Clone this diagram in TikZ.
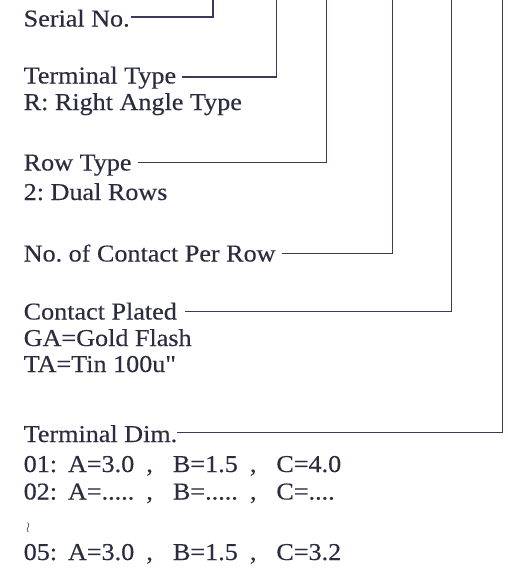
\documentclass[tikz,border=0pt]{standalone}
\usepackage{fontspec}
\setmainfont{Liberation Serif}[FakeStretch=1.08, FakeBold=0.3]
\usetikzlibrary{positioning}
\definecolor{inkgray}{RGB}{44,44,64}
\definecolor{leadgray}{RGB}{60,58,92}
\frenchspacing
\tikzset{
    % Texts
    heading/.style = {anchor=base west, inner sep=0pt, text=inkgray,
        font=\fontsize{24.2}{26}\selectfont},
    option/.style  = {heading},
    gapmark/.style = {inner sep=0pt, text=inkgray, font=\fontsize{15}{15}\selectfont},
    % Leader lines
    leader/.style  = {draw=leadgray, line width=1.4pt}
}
% one row of terminal dimensions, fixed columns
\newcommand{\termrow}[4]{%
    \makebox[44.3pt][l]{#1:}\makebox[78.4pt][l]{#2}\makebox[26.6pt][l]{,}%
    \makebox[77pt][l]{#3}\makebox[26.4pt][l]{,}#4}

\begin{document}
\begin{tikzpicture}[x=1pt, y=-1pt]
    \path [fill=white, use as bounding box] (0,0) rectangle (507,568);

    % Nodes
    \node (serial)    [heading] at (23.5,26.5) {Serial No.};

    \node (termtype)  [heading] at (23.5,83.5) {Terminal Type};
    \node (termtypeR) [option]  at (23.5,110)  {R: Right Angle Type};

    \node (rowtype)   [heading] at (23.5,170.5) {Row Type};
    \node (rowtypeD)  [option]  at (23.5,200)   {2: Dual Rows};

    \node (contacts)  [heading] at (23.5,261.5) {No. of Contact Per Row};

    \node (plated)    [heading] at (23.5,319.5) {Contact Plated};
    \node (platedGA)  [option]  at (23.5,346)   {GA=Gold Flash};
    \node (platedTA)  [option]  at (23.5,372)   {TA=Tin 100u\textquotedbl};

    \node (termdim)   [heading] at (23.5,442)   {Terminal Dim.};
    \node (dimA)      [option]  at (23.5,472)   {\termrow{01}{A=3.0}{B=1.5}{C=4.0}};
    \node (dimB)      [option]  at (23.5,499.5) {\termrow{02}{A=.....}{B=.....}{C=....}};
    \node (dimgap)    [gapmark] at (28,528)     {$\wr$};
    \node (dimE)      [option]  at (23.5,560)   {\termrow{05}{A=3.0}{B=1.5}{C=3.2}};

    % Leader tops
    \coordinate (serialtop)   at (213,0);
    \coordinate (termtypetop) at (276.3,0);
    \coordinate (rowtypetop)  at (326.7,0);
    \coordinate (contactstop) at (392.7,0);
    \coordinate (platedtop)   at (451.7,0);
    \coordinate (termdimtop)  at (502.5,0);

    % Edges
    \draw [leader] ([xshift=1pt,yshift=9.5pt]serial.base east) -| (serialtop);
    \draw [leader] ([xshift=6pt,yshift=6.5pt]termtype.base east) -| (termtypetop);
    \draw [leader] ([xshift=6pt,yshift=8pt]rowtype.base east) -| (rowtypetop);
    \draw [leader] ([xshift=6pt,yshift=8pt]contacts.base east) -| (contactstop);
    \draw [leader] ([xshift=8pt,yshift=8pt]plated.base east) -| (platedtop);
    \draw [leader] ([xshift=0pt,yshift=9.5pt]termdim.base east) -| (termdimtop);
\end{tikzpicture}
\end{document}
